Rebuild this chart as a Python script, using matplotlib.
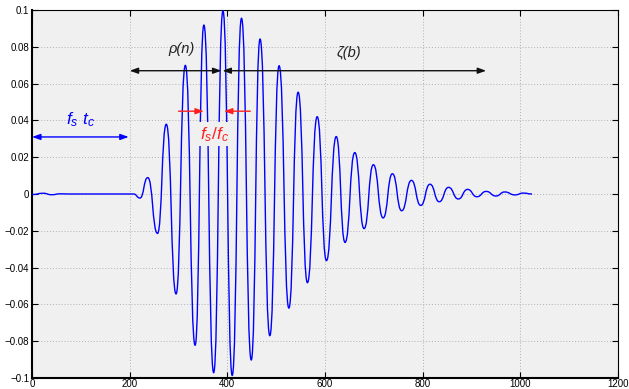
import numpy as np
import matplotlib
matplotlib.use('Agg')
import matplotlib.pyplot as plt
from matplotlib.path import Path
from matplotlib.patches import PathPatch

plt.rcParams['font.family'] = ['Liberation Sans', 'DejaVu Sans']
plt.rcParams['mathtext.fontset'] = 'custom'
plt.rcParams['mathtext.it'] = 'Liberation Sans:italic'
plt.rcParams['mathtext.rm'] = 'Liberation Sans'

# Extrema of the waveform (sample index, amplitude)
ext_x = [0, 23, 40, 58, 75, 208, 221, 237, 257, 275, 295, 314, 334, 352, 372,
         391, 410, 429, 449, 467, 487, 506, 526, 545, 564, 584, 603, 623, 641,
         661, 680, 699, 719, 738, 757, 777, 796, 815, 834, 853, 873, 892, 911,
         930, 950, 968, 989, 1006, 1024]
ext_y = [-0.0003, 0.0004, -0.0004, 0.0001, 0.0, 0.0, -0.0022, 0.0089, -0.0214,
         0.0379, -0.0543, 0.0699, -0.0822, 0.0918, -0.0971, 0.0995, -0.0986,
         0.0955, -0.0902, 0.0842, -0.0770, 0.0697, -0.0620, 0.0553, -0.0482,
         0.0420, -0.0362, 0.0312, -0.0263, 0.0225, -0.0188, 0.0159, -0.0130,
         0.0110, -0.0091, 0.0074, -0.0062, 0.0053, -0.0042, 0.0036, -0.0027,
         0.0025, -0.0015, 0.0014, -0.0011, 0.0011, -0.0005, 0.0005, 0.0]

xticks = [0, 200, 400, 600, 800, 1000, 1200]
yticks = [-0.1, -0.08, -0.06, -0.04, -0.02, 0, 0.02, 0.04, 0.06, 0.08, 0.1]
yticklabels = ['\u22120.1', '\u22120.08', '\u22120.06', '\u22120.04', '\u22120.02',
               '0', '0.02', '0.04', '0.06', '0.08', '0.1']

# annotation values
fstc_span = (0, 198)
fstc_y = 0.031
rho_span = (200, 388)
zeta_span = (390, 930)
span_y = 0.067
red_right = (300, 352)
red_left = (447, 393)
red_y = 0.045

fig = plt.figure(figsize=(6.29, 3.89), dpi=100)
ax = fig.add_axes([0.0509, 0.0283, 0.9316, 0.946])
ax.set_facecolor('#f0f0f0')

# smooth curve through extrema (horizontal tangents at each extremum)
k = 0.52
verts = [(ext_x[0], ext_y[0])]
codes = [Path.MOVETO]
for i in range(len(ext_x) - 1):
    x0, y0, x1, y1 = ext_x[i], ext_y[i], ext_x[i + 1], ext_y[i + 1]
    d = (x1 - x0) * k
    verts += [(x0 + d, y0), (x1 - d, y1), (x1, y1)]
    codes += [Path.CURVE4] * 3
ax.add_patch(PathPatch(Path(verts, codes), fill=False, edgecolor='#0000ff',
                       lw=1.0, zorder=3))

ax.set_xlim(0, 1200)
ax.set_ylim(-0.1, 0.1)
ax.set_xticks(xticks)
ax.set_xticklabels([str(t) for t in xticks])
ax.set_yticks(yticks)
ax.set_yticklabels(yticklabels)
ax.tick_params(direction='in', top=True, right=True, length=4, width=0.8,
               labelsize=7, pad=2)
ax.tick_params(axis='x', pad=1)
ax.grid(True, linestyle=(0, (1, 2)), color='#b0b0b0', lw=0.7)
for s in ['left', 'bottom']:
    ax.spines[s].set_linewidth(1.5)
for s in ['top', 'right']:
    ax.spines[s].set_linewidth(0.8)

head = dict(mutation_scale=7)
ax.annotate('', xy=(fstc_span[1], fstc_y), xytext=(fstc_span[0], fstc_y),
            arrowprops=dict(arrowstyle='<|-|>,head_length=0.7,head_width=0.25',
                            color='#0000ff', lw=1.0, shrinkA=0, shrinkB=0, **head),
            zorder=4)
ax.text(100, 0.0405, r'$f_s\ t_c$', color='#0000ff', fontsize=12.5,
        ha='center', va='center')

ax.annotate('', xy=(rho_span[1], span_y), xytext=(rho_span[0], span_y),
            arrowprops=dict(arrowstyle='<|-|>,head_length=0.7,head_width=0.25',
                            color='#111111', lw=1.0, shrinkA=0, shrinkB=0, **head),
            zorder=4)
ax.annotate('', xy=(zeta_span[1], span_y), xytext=(zeta_span[0], span_y),
            arrowprops=dict(arrowstyle='<|-|>,head_length=0.7,head_width=0.25',
                            color='#111111', lw=1.0, shrinkA=0, shrinkB=0, **head),
            zorder=4)
ax.text(307, 0.079, '\u03c1(n)', color='#222222', fontsize=10.5, style='italic',
        ha='center', va='center')
ax.text(649, 0.0765, '\u03b6(b)', color='#222222', fontsize=10.5, style='italic',
        ha='center', va='center')

for (xa, xb) in [red_right, red_left]:
    ax.annotate('', xy=(xb, red_y), xytext=(xa, red_y),
                arrowprops=dict(arrowstyle='-|>,head_length=0.7,head_width=0.25',
                                color='#ff2020', lw=1.0, shrinkA=0, shrinkB=0, **head),
                zorder=4)
ax.text(373, 0.0325, r'$f_s/f_c$', color='#ff2020', fontsize=12.5,
        ha='center', va='center', zorder=5,
        bbox=dict(facecolor='#f0f0f0', edgecolor='none', pad=2.0))

fig.savefig('out.png', dpi=100)
